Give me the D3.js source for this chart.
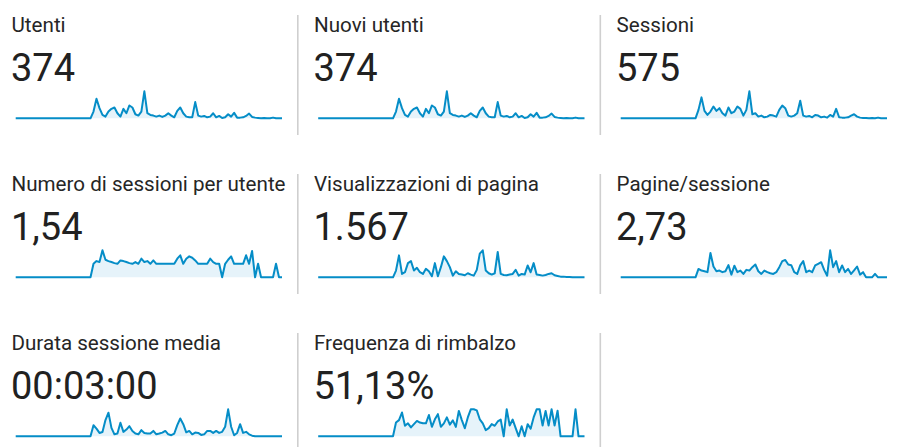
<!DOCTYPE html>
<html>
<head>
<meta charset="utf-8">
<script src="https://cdn.jsdelivr.net/npm/d3@7"></script>
<style>
  body { margin: 0; background: #fff; }
  text { font-family: Roboto, "Noto Sans", sans-serif; }
</style>
</head>
<body>
<div id="container"></div>
<script>
/* DATA */
const labels = ["Utenti", "Nuovi utenti", "Sessioni",
  "Numero di sessioni per utente", "Visualizzazioni di pagina", "Pagine/sessione",
  "Durata sessione media", "Frequenza di rimbalzo"]
const totals = ["374", "374", "575", "1,54", "1.567", "2,73", "00:03:00", "51,13%"]

// 26 days with no data, then daily values
const empty = [0,0,0,0,0,0,0,0,0,0,0,0,0,0,0,0,0,0,0,0,0,0,0,0,0,0]

const utenti = empty.concat([20,58,30,10,5,20,28,32,15,5,28,15,38,32,12,8,20,80,15,10,8,5,8,4,8,15,8,3,22,32,15,5,3,3,48,8,5,7,3,5,15,3,7,1,3,12,5,16,2,2,3,7,14,4,2,1,0,1,0,0,2,0,0,0])
const nuoviUtenti = empty.concat([20,58,30,10,5,20,28,32,15,5,28,15,38,32,12,8,20,80,15,10,8,5,8,4,8,15,8,3,22,32,15,5,3,3,48,8,5,7,3,5,15,3,7,1,3,12,5,16,2,2,3,7,14,4,2,1,0,1,0,0,2,0,0,0])
const sessioni = empty.concat([25,62,22,10,20,35,22,30,15,8,32,15,20,35,28,8,25,80,12,15,5,8,3,5,10,8,5,25,38,30,8,5,8,15,52,8,5,7,3,10,8,3,5,2,10,5,28,3,2,2,3,8,12,5,2,1,1,0,1,0,2,0,0,0])
const sessPerUtente = empty.concat([1,1.2,1.13,2,1.3,1.2,1.13,1.05,1,1.25,1.2,1.13,1.05,1,1.13,1,1.38,1.13,1.2,1,1.25,1,1,1,1,1,1,1,1.38,1.63,1,1.38,1.55,1.45,1.25,1,1,1,1,1.38,1.13,1,1,0,1,1.3,1.55,1,1,1,1,1.63,1,1.95,0,1,0,0,0,0,0,1,0,0])
const visualizzazioni = empty.concat([20,65,10,15,42,48,20,28,15,10,25,18,3,42,3,30,62,48,30,5,18,10,8,6,12,8,5,22,70,80,20,12,8,12,75,10,7,6,8,10,22,5,10,8,35,15,42,8,7,5,7,10,12,6,4,2,2,1,1,0,0,0,0,0])
const paginePerSess = empty.concat([3.1,2.5,2.25,1.9,9,4,2.25,2.5,1.9,2.25,4.5,1,4.3,1.9,2.5,1.25,2.75,2.5,3.75,4.75,2.25,1.25,2.5,1.9,1.5,1.25,1.9,3.75,6,6.4,4.75,4.5,1.9,1.25,4.4,6,1.9,2.5,1.9,4.4,5,5.6,2.75,0.6,10,3.75,6,1.9,4.4,1.9,3.1,1.25,2.6,4,1,1.9,0,0,0,1.25,0,0,0,0])
const durata = empty.concat([360,250,110,140,530,770,275,65,90,440,145,220,330,175,90,65,200,110,90,90,175,65,90,120,175,65,35,90,365,580,395,130,175,65,120,110,45,65,175,175,110,175,110,145,310,880,310,35,110,395,110,145,65,20,0,0,0,0,0,0,0,0,0,0])
const rimbalzo = empty.concat([51,60,88,39,48,33,45,57,51,48,48,79,35,63,82,35,48,70,43,59,35,94,60,30,70,100,100,96,63,48,23,30,45,39,55,62,0,100,40,62,30,0,37,0,45,28,70,100,100,40,94,40,100,40,95,0,0,0,0,0,100,0,0,0])

const series = [utenti, nuoviUtenti, sessioni, sessPerUtente, visualizzazioni, paginePerSess, durata, rimbalzo]

/* LAYOUT */
const width = 898
const height = 447
const colW = 302.5
const rowH = 159
const sparkH = 27

const svg = d3.select("#container")
  .append("svg")
  .attr("width", width)
  .attr("height", height)

// dividers between columns
for (let r = 0; r < 3; r++) {
  for (let c = 0; c < 2; c++) {
    svg.append("rect")
      .attr("x", 297 + c * colW)
      .attr("y", 15 + r * rowH)
      .attr("width", 1.6)
      .attr("height", 120)
      .attr("fill", "#cfcfcf")
  }
}

labels.forEach((label, k) => {
  const c = k % 3
  const r = Math.floor(k / 3)
  const g = svg.append("g")
    .attr("transform", `translate(${c * colW}, ${r * rowH})`)

  g.append("text")
    .attr("x", 11.5)
    .attr("y", 32)
    .attr("font-size", 20.6)
    .attr("fill", "#262626")
    .text(label)

  g.append("text")
    .attr("x", 11)
    .attr("y", 81)
    .attr("font-size", 38)
    .attr("fill", "#212121")
    .text(totals[k])

  const data = series[k]
  const xScale = d3.scaleLinear()
    .domain([0, data.length - 1])
    .range([15.7, 282])
  const yScale = d3.scaleLinear()
    .domain([0, d3.max(data)])
    .range([118.3, 118.3 - sparkH])

  const area = d3.area()
    .x((d, i) => xScale(i))
    .y0(yScale(0))
    .y1(d => yScale(d))
  const line = d3.line()
    .x((d, i) => xScale(i))
    .y(d => yScale(d))

  g.append("path")
    .datum(data)
    .attr("d", area)
    .attr("fill", "#e6f3fa")

  g.append("path")
    .datum(data)
    .attr("d", line)
    .attr("fill", "none")
    .attr("stroke", "#058dc7")
    .attr("stroke-width", 2)
    .attr("stroke-linejoin", "round")
})
</script>
</body>
</html>
